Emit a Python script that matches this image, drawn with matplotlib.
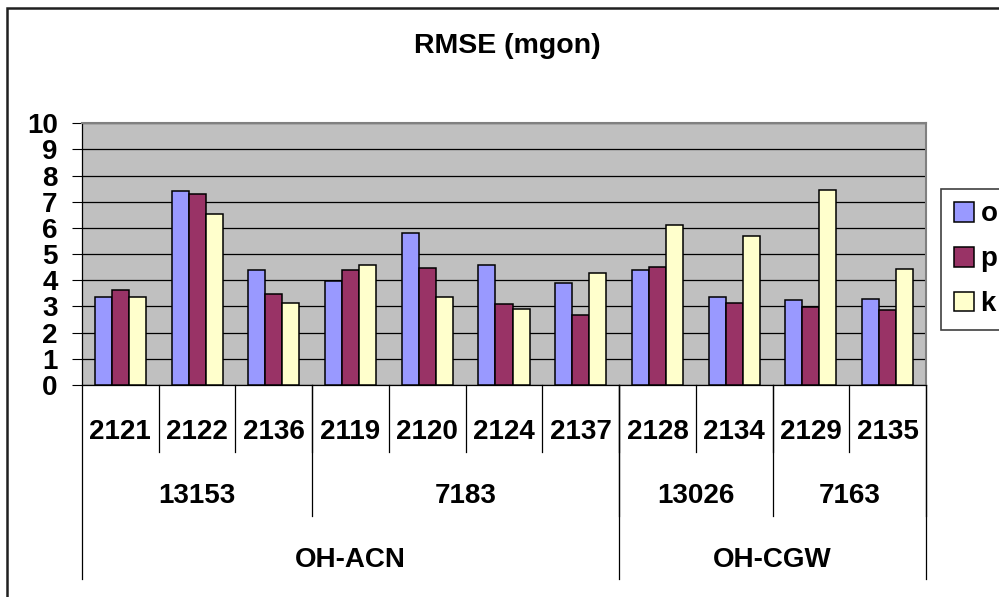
import matplotlib
matplotlib.use("Agg")
import matplotlib.pyplot as plt
import matplotlib.patches as mpatches
from matplotlib.lines import Line2D
import numpy as np

plt.rcParams['font.family'] = ['Liberation Sans', 'DejaVu Sans']
plt.rcParams['font.weight'] = 'bold'

# RMSE par station (mgon)
stations = ["2121", "2122", "2136", "2119", "2120", "2124", "2137",
            "2128", "2134", "2129", "2135"]
rmse_o = [3.38, 7.41, 4.38, 3.97, 5.79, 4.58, 3.88, 4.39, 3.38, 3.23, 3.28]
rmse_p = [3.63, 7.29, 3.49, 4.38, 4.48, 3.09, 2.67, 4.50, 3.14, 2.98, 2.87]
rmse_k = [3.35, 6.54, 3.14, 4.58, 3.38, 2.91, 4.29, 6.10, 5.70, 7.46, 4.43]

# regroupements : (libellé, nb de stations)
reperes = [("13153", 3), ("7183", 4), ("13026", 2), ("7163", 2)]
sites = [("OH-ACN", 7), ("OH-CGW", 4)]

series = [("o", rmse_o, "#9999FF"), ("p", rmse_p, "#993366"), ("k", rmse_k, "#FFFFCC")]

W, H = 999, 597
fig = plt.figure(figsize=(W / 100, H / 100), dpi=100)

# cadre du graphique
fig.patches.append(mpatches.Rectangle((7 / W, -0.1), 1.2, 1.1 - 8 / H,
                                      transform=fig.transFigure, fill=False,
                                      edgecolor="#202020", linewidth=1.8))

x0, x1, ytop, ybot = 82, 926, 123.3, 385
ax = fig.add_axes([x0 / W, 1 - ybot / H, (x1 - x0) / W, (ybot - ytop) / H])
ax.set_facecolor("#C0C0C0")

n = len(stations)
x = np.arange(n) + 0.5
bw = 0.222
for i, (nom, vals, col) in enumerate(series):
    ax.bar(x + (i - 1) * bw, vals, width=bw, color=col, edgecolor="black",
           linewidth=1.1, label=nom, zorder=3)

ax.set_xlim(0, n)
ax.set_ylim(0, 10)
ax.set_yticks(range(0, 11))
ax.yaxis.grid(True, color="black", linewidth=0.9, zorder=1)
ax.set_axisbelow(True)
ax.tick_params(axis="y", direction="out", length=7.5, width=0.8, pad=10,
               labelsize=20)
ax.tick_params(axis="x", bottom=False, labelbottom=False)
for lab in ax.get_yticklabels():
    lab.set_fontweight("bold")
ax.spines["top"].set_color("#808080")
ax.spines["right"].set_color("#808080")
ax.spines["top"].set_linewidth(1.5)
ax.spines["right"].set_linewidth(1.5)
ax.spines["left"].set_linewidth(0.9)
ax.spines["bottom"].set_linewidth(0.9)

# axe des catégories sur trois niveaux
trans = ax.get_xaxis_transform()
hpx = ybot - ytop
def ya(ypx):
    return (ybot - ypx) / hpx

def trait(xb, ypx):
    ax.add_line(Line2D([xb, xb], [0, ya(ypx)], transform=trans, color="black",
                       linewidth=0.9, clip_on=False))

for b in range(1, n):
    trait(b, 452)
pos = 0
for nom, k in reperes:
    ax.text(pos + k / 2, ya(496), nom, transform=trans, ha="center",
            va="center", fontsize=20, fontweight="bold")
    pos += k
    trait(pos, 516)
pos = 0
trait(0, 579)
for nom, k in sites:
    ax.text(pos + k / 2, ya(560), nom, transform=trans, ha="center",
            va="center", fontsize=20, fontweight="bold")
    pos += k
    trait(pos, 579)
for i, s in enumerate(stations):
    ax.text(i + 0.5, ya(432), s, transform=trans, ha="center", va="center",
            fontsize=20, fontweight="bold")

fig.text(507 / W, 1 - 46 / H, "RMSE (mgon)", ha="center", va="center",
         fontsize=20.5, fontweight="bold")

leg = fig.legend(loc="upper left", bbox_to_anchor=(941 / W, 1 - 189 / H),
                 borderaxespad=0, fontsize=20, handlelength=0.72,
                 handleheight=0.72, handletextpad=0.25, labelspacing=0.68,
                 borderpad=0.45, fancybox=False, framealpha=1)
leg.get_frame().set_edgecolor("#404040")
leg.get_frame().set_linewidth(1.2)
for t in leg.get_texts():
    t.set_fontweight("bold")

fig.savefig("out.png", dpi=100)
